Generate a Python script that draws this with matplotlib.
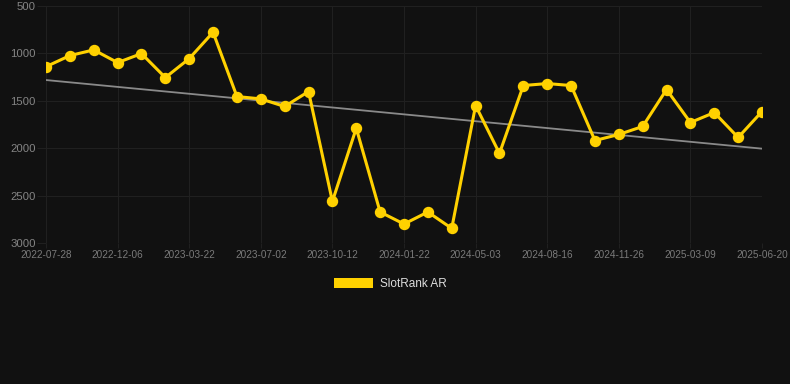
import matplotlib
matplotlib.use('Agg')
import matplotlib.pyplot as plt
from matplotlib.patches import Patch
import numpy as np

# tick labels shown on the x axis (every third point)
tick_dates = ['2022-07-28', '2022-12-06', '2023-03-22', '2023-07-02', '2023-10-12',
              '2024-01-22', '2024-05-03', '2024-08-16', '2024-11-26', '2025-03-09',
              '2025-06-20']

# SlotRank AR values (lower is better, axis inverted)
rank = [1140, 1023, 963, 1097, 1002, 1255, 1055, 777, 1455, 1480,
        1560, 1402, 2561, 1789, 2673, 2800, 2673, 2846, 1550, 2055,
        1339, 1318, 1339, 1919, 1855, 1771, 1381, 1729, 1624, 1887,
        1613]

y_ticks = [500, 1000, 1500, 2000, 2500, 3000]

bg = '#111111'
gold = '#FFD100'
grid_c = '#202020'

plt.rcParams['font.family'] = ['Liberation Sans', 'DejaVu Sans']

fig = plt.figure(figsize=(7.9, 3.84), dpi=100, facecolor=bg)
ax = fig.add_axes([46 / 790, 1 - 243 / 384, (762 - 46) / 790, (243 - 6) / 384])
ax.set_facecolor(bg)

x = np.arange(len(rank))

# trend line (least squares)
k, b = np.polyfit(x, rank, 1)
ax.plot(x, k * x + b, color='#8a8a8a', lw=1.3, zorder=2)

ax.plot(x, rank, color=gold, lw=2.2, marker='o', markersize=7.2, zorder=3)

ax.set_xlim(0, len(rank) - 1)
ax.set_ylim(3000, 500)
ax.set_yticks(y_ticks)
ax.set_xticks(x[::3])
ax.set_xticklabels(tick_dates)

ax.grid(True, color=grid_c, lw=0.8)
ax.set_axisbelow(True)
for s in ax.spines.values():
    s.set_visible(False)
ax.tick_params(axis='y', length=6.5, width=0.8, color=grid_c, pad=0.8,
               labelsize=8.2, labelcolor='#858585')
ax.tick_params(axis='x', length=3.6, width=0.8, color=grid_c, pad=1.5,
               labelsize=7.2, labelcolor='#7a7a7a')

fig.legend(handles=[Patch(facecolor=gold, edgecolor='none', label='SlotRank AR')],
           loc='center', bbox_to_anchor=(390 / 790, 1 - 284 / 384), frameon=False,
           fontsize=8.5, labelcolor='#dddddd', handlelength=3.3, handleheight=0.85,
           handletextpad=0.6)

fig.savefig('out.png', dpi=100, facecolor=bg)
